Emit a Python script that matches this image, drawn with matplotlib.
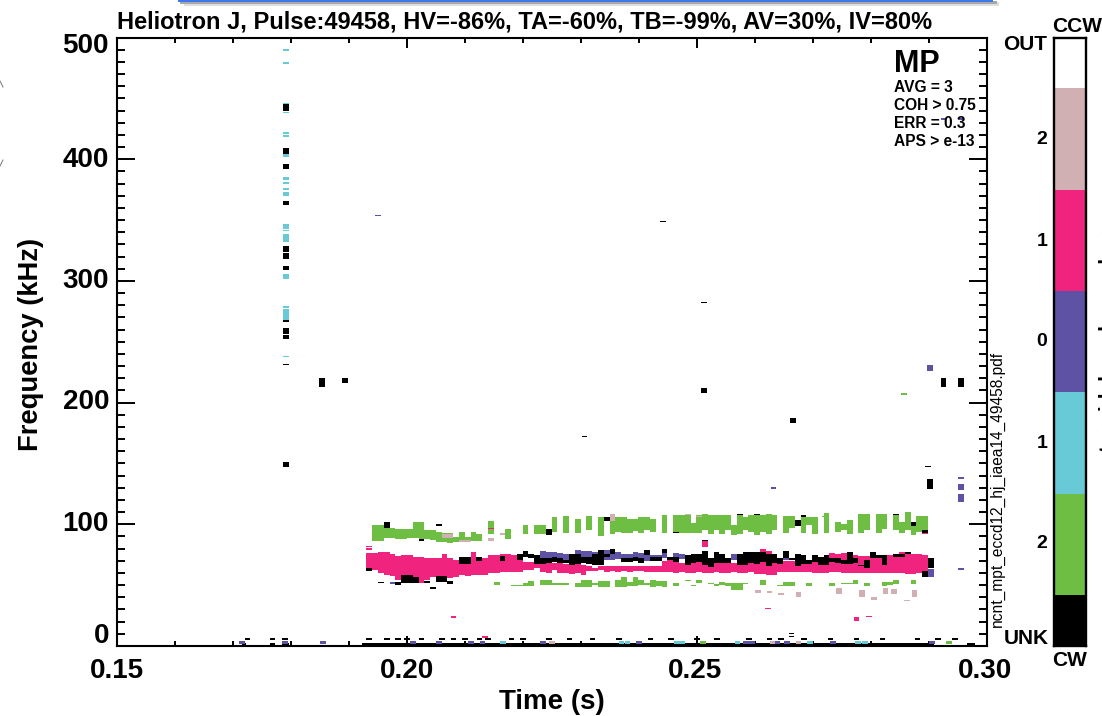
import numpy as np
import matplotlib
matplotlib.use("Agg")
import matplotlib.pyplot as plt
from matplotlib.patches import Rectangle

plt.rcParams['font.family'] = ['Liberation Sans', 'DejaVu Sans']

W, H = 1102, 716
PINK, PURPLE, CYAN, GREEN, TAN = '#F0237F', '#5D52A3', '#67CAD6', '#6EBE44', '#D0B0B3'
BLACK = '#000000'

# time grid of the spectrogram columns
t0, dt = 0.1935, 0.000998

title_text = "Heliotron J, Pulse:49458, HV=-86%, TA=-60%, TB=-99%, AV=30%, IV=80%"
x_ticks = [0.15, 0.20, 0.25, 0.30]
y_ticks = [0, 100, 200, 300, 400, 500]
info_lines = ["AVG = 3", "COH > 0.75", "ERR = 0.3", "APS > e-13"]
cbar_colors = [BLACK, GREEN, CYAN, PURPLE, PINK, TAN, '#FFFFFF']
cbar_labels = ["2", "1", "0", "1", "2"]

# main pink band (kHz) per column
pink_high = [76.5,76.5,77.4,77.4,76,73.8,74.6,74.6,73.3,73.3,72.4,72.4,72.4,75.2,71.9,70.5,69.2,69.2,77.4,73.3,
             71.9,74.6,74.6,76,76,74.6,71.9,69.2,69.2,67.8,67.8,67.8,67.8,67.8,67.2,66.4,67.2,66.4,65.6,64.5,
             65.4,66,65.4,66,65.4,66,65.4,66,65.4,66,66,
             70,72,70,68,68,68,70,68,68,68,68,68,68,68,68,68,68,80,78,70,70,70,70,70,70,70,70,70,70,
             76.5,76,76.5,76,75,74,74,73.5,73,74,75,75,77,77,76,75.5,75]
pink_low = [62.3,62.3,59.6,58.2,57.4,54.1,58.2,58.2,56.8,51.4,54.1,56.3,57.4,56.3,55.5,56.3,58.2,57.4,58.2,58.2,
            58.2,59.6,59.6,60.9,60.9,60.9,60.9,62.3,62.3,63.7,60.9,60.1,62.3,59.6,60.1,59,59.6,58.2,61.8,61.8,
            62.3,61,62,61,62,61,62,61.5,61,61,61,
            61,60.5,60,60.9,60.3,60,60.9,60,60,60.5,60,60,60.5,60.3,60,60.5,59.5,59,58.2,58.5,60.9,60.9,61,61,
            60.5,60.5,60,60,60.3,60.9,60.9,60.3,60,59.6,59.6,60,59.6,60.3,59.6,60,60.3,59.6,59,59,59.6,61]
pink_extra_col = [0,0,58,21,68,96]
pink_extra_lo = [79,81,81,96,77.4,92]
pink_extra_hi = [80.5,82,86,97,80,93.5]

# purple band
purple_col = [30,31,32,33,34,35,36,37,38,39,41,42,43,44,45,46,47,48,49,50,51,53,54,63,72,97,4]
purple_low = [72,72.4,73,72,71,72,71,72,72,71,71,71,71.5,71.5,72,70.5,70,70,71,71.5,72,71.5,71.5,71,71,57,50.8]
purple_high = [78,77.5,77,76.5,75.5,76,79,78,78,77,79,77,77,76,76,77,76.5,75.5,75,75,76.5,76.5,76,75.5,75,63,52.7]

# black band
black_col = [27,28,29,30,31,32,33,34,35,36,37,38,39,40,41,42,44,45,46,47,48,49,50,51,52,53,
             55,56,57,58,59,60,61,62,64,65,66,67,68,69,70,71,72,73,74,75,76,77,78,79,80,81,82,83,84,85,86,87,88,89,91,92,93,96,97]
black_low = [73.3,71.9,67.2,67.2,68.3,69.2,68.3,67.8,66.4,67.2,68.3,67.2,66.4,66.4,73,76,69,69,70,68,75,70,70,76.8,71,69.2,
             66.4,67.8,69.2,66.4,65,67.8,67.8,68.3,66.4,66.4,68.3,67.2,69.2,65.6,67.8,67.2,71.9,71,65.6,67.2,67.2,69.2,66.4,66.4,
             69.2,67.8,67.2,67.2,67.8,65.6,64,72,72,66.4,73.3,73.3,75.4,56.3,63.7]
black_high = [77.9,76,74.6,71.9,72.4,73.3,71.9,71,75.4,75.2,73.3,73.3,76,78.7,76,79.3,72,72,73.3,71.9,79,73,73,80,73.3,73,
              74.6,76,76,78.2,71.9,77.4,76,71.9,76,77.4,77.4,77.4,77.4,76,76,71.9,78.2,72,76,74.6,70.5,74.6,73.3,74.6,
              71.9,71.9,71,77.4,71.9,66.5,70.5,77.4,74.6,74.6,76,76,77.4,62,72]
black_extra_col = [0,2,3,5,6,7,8,9,10,11,12,13,12,14,16,17,19,23,26,31,41,74,75,53,64,67,87,91,96,94,58]
black_extra_lo = [61.8,52.1,97.3,50,51.4,51.4,51.4,86.4,51.4,47,52.7,52.7,99,50.8,67.2,67.2,70,70,70.5,91,102.8,98.4,106,92.8,108,108,109,108,93,98.8,86.5]
black_extra_hi = [63.7,52.8,102,52.7,58.2,58.2,57,87.8,53.6,48.6,57.4,57.4,100.6,53.6,73.3,73.3,73.3,73.8,75.5,96.5,105.6,103.9,108,93.8,108.6,108.6,109.4,108.6,95,101.5,87]

# upper green band
green_col = [1,2,3,4,5,6,7,8,9,10,11,12,13,14,15,16,17,18,19,21,24,27,29,30,32,34,36,38,40,42,43,44,45,46,47,48,49,
             51,53,54,55,56,57,58,59,60,61,62,63,64,65,66,67,68,69,70,72,73,75,76,77,79,81,82,83,85,86,88,89,91,92,93,94,95,96]
green_low = [86.4,86.4,88.9,88.9,88.3,88.3,88.9,88.9,87.8,87.8,87,85.6,85.6,84.8,85.6,87,85.6,86.4,86.4,92,88,91.9,92.4,92.4,93.8,93,93,95.2,90.2,91.9,93.8,93,93,94.6,93,95.2,93.8,
             93,93,93,93,93,93,95.7,92.4,95.7,92.4,95.7,91,92.4,95.7,93.8,91,93.8,92.4,95.7,93,97.3,93,99.3,91.9,93,93.8,95.7,92.4,93,95.7,93,96,95,93,95.7,91,93.8,93.8]
green_high = [99.3,99.3,97.3,97.3,96.5,96.5,96.5,102,102,95.2,95.2,93.8,93,93,89.7,93.8,89.7,93.8,92.4,102.5,96.5,99.8,99.3,99.3,105.6,106.7,104.7,107.2,106.1,106.1,106.1,105.6,104.7,104.7,106.1,106.1,104.7,
              107.5,107.5,108,108.3,101.2,107.5,108.3,107.5,107.5,107.5,107.5,99.3,107.5,106,107.5,108.3,107.5,108.3,107.5,106.7,106.7,107.5,106,106,109.4,102,100.6,103.9,108.8,108.8,108.8,108.8,108.3,102,110.2,100,106.7,106.7]

# lower green band
green2_t = [22,25,26,27,28,30,31,32,33,34,36,37,38,39,40,41,43,44,45,46,47,48,49,50,51,53,55,56,57,59,60,61,62,63,64,65,68,71,72,73,76,80,82,83,84,86,89,90,91,94]
green2_low = [50,49.2,49.2,49.2,49.2,50,50,50,50,50,48.6,48.1,48.1,50,48.6,48.6,48.6,48.6,49.2,49.2,50,50,48.6,49.2,48.1,49.2,53,49.2,52,51,49.2,50,49.2,45.9,45.9,51,50,49.2,49.2,49.2,49.2,49,50.8,50.8,50.8,49.2,49.2,50,50.8,50.8]
green2_high = [52.7,50,50,51.9,53.6,54.6,54.6,51.9,51.9,51.9,51.9,54.1,54.1,51.9,53.6,53.6,54.6,56.8,52.7,56.3,54.6,51.9,54.1,53.6,53.6,51.4,54.1,50,54,51.9,51,52.7,51.4,51.4,51.4,51.4,54.1,50,52.7,52.7,51.9,52,51.5,51.5,54,51.4,52.7,52.7,54.6,54.1]

# tan cells sitting on the upper green band
tan_col = [13,14,16,17,21,23,42,55,57]
tan_lo = [89,89,85.6,85.6,86.4,91.3,102.8,108,106]
tan_hi = [91.9,91.9,87,87,88.9,93,108.3,108.4,106.7]

# vertical stack of cells near t = 0.179
stack_t = 0.1791
stack_low = [489,478,445,438,421,418,408,402,392,382.5,380,374.6,369.7,342.3,340.8,331.7,301.3,278,267.7,237.3]
stack_high = [490.5,480,446.5,439,422.5,419.5,409.5,404,395,385,381,376,372.7,346.5,341.9,338.6,305.5,279,277,238.4]
stack_black_low = [439.5,404,392,362,324,318,309.3,256.7,252.6,230.5,147.3,266.5]
stack_black_high = [445,409,396,365.6,329,323,312.6,261.7,255.4,232,151.6,267.7]

# isolated cells: time, low, high
iso_black_t = [0.1853,0.1893,0.2512,0.2665,0.2902,0.2925,0.2955,0.2512,0.2442,0.2306,0.2898,0.2663,0.2663]
iso_black_lo = [212.6,216,207.7,183,129,212.6,212.6,282,348.5,171.5,147,9.5,7.5]
iso_black_hi = [220,220,212,187,137,220,220,283,349.5,172.5,148,10.5,8.5]
iso_purple_t = [0.2902,0.2955,0.2955,0.2955,0.2955,0.2925,0.2955,0.1950,0.2632]
iso_purple_lo = [225.8,137,128,118,62.4,432,432,353.3,129]
iso_purple_hi = [230.7,138.7,133,124.8,64,434,434,354.3,130.3]
iso_pink_t = [0.2080,0.2622,0.2775,0.2797,0.2135]
iso_pink_lo = [22.8,30.5,20.5,24,6.5]
iso_pink_hi = [24.8,31.5,24,25,8]
iso_tan_t = [0.2605,0.2625,0.2645,0.2675,0.2745,0.2785,0.2805,0.2825,0.2840,0.2862,0.2875]
iso_tan_lo = [43.5,43.5,42,40,43,40,38,43,43,37,40]
iso_tan_hi = [46,45,43.5,44,48,46,40,48,47,38,46]
iso_green_t = [0.2857,0.2762,0.2720]
iso_green_lo = [206.5,106.5,106]
iso_green_hi = [207.5,107,107]

# floor row: start time, end time, colour index
floor_black = [(0.1715,0.1722),(0.1763,0.1772),(0.1785,0.1797),(0.1922,0.2908),(0.2965,0.2980)]
floor_cells_t = [0.2010,0.2055,0.2110,0.2130,0.2165,0.2235,0.2250,0.2370,0.2380,0.2400,0.2465,0.2475,
                 0.2570,0.2585,0.2510,0.2595,0.2638,0.2655,0.2695,0.2735,0.2778,0.2790,0.2630,0.2675,
                 0.2905,0.2935,0.1715,0.1790,0.1855]
floor_cells_c = [PURPLE,PURPLE,PURPLE,PURPLE,CYAN,PURPLE,TAN,CYAN,CYAN,PURPLE,CYAN,CYAN,
                 CYAN,PURPLE,GREEN,PURPLE,PURPLE,PURPLE,CYAN,PURPLE,CYAN,CYAN,TAN,TAN,
                 PURPLE,GREEN,PURPLE,PURPLE,PURPLE]
floor_thin_t = [0.1725,0.1768,0.1790,0.1935,0.1965,0.1985,0.2000,0.2025,0.2060,0.2080,0.2100,0.2125,0.2140,
                0.2180,0.2200,0.2245,0.2280,0.2320,0.2365,0.2420,0.2455,0.2500,0.2535,0.2590,0.2625,0.2645,
                0.2685,0.2730,0.2775,0.2820,0.2880,0.2915,0.2945]

fig = plt.figure(figsize=(W/100, H/100), dpi=100)
ax = fig.add_axes([117/W, 1-646/H, 870/W, 608.5/H])
ax.set_xlim(0.15, 0.30)
ax.set_ylim(0, 500)


def draw(ts, lows, highs, color, width=dt, z=2):
    n = min(len(ts), len(lows), len(highs))
    ts, lows, highs = np.array(ts[:n]), np.array(lows[:n]), np.array(highs[:n])
    ax.bar(ts, highs-lows, bottom=lows, width=width, color=color, linewidth=0, zorder=z)


def cols(idx):
    return [t0 + dt*i for i in idx]


draw(cols(green_col), green_low, green_high, GREEN)
draw(cols(green2_t), green2_low, green2_high, GREEN)
draw(cols(tan_col), tan_lo, tan_hi, TAN, z=3)
draw(cols(range(len(pink_high))), pink_low, pink_high, PINK, z=3)
draw(cols(pink_extra_col), pink_extra_lo, pink_extra_hi, PINK, z=3)
draw(cols(purple_col), purple_low, purple_high, PURPLE, z=4)
draw(cols(black_col), black_low, black_high, BLACK, z=5)
draw(cols(black_extra_col), black_extra_lo, black_extra_hi, BLACK, z=5)
draw([stack_t]*len(stack_low), stack_low, stack_high, CYAN)
draw([stack_t]*len(stack_black_low), stack_black_low, stack_black_high, BLACK, z=3)
draw(iso_tan_t, iso_tan_lo, iso_tan_hi, TAN)
draw(iso_green_t, iso_green_lo, iso_green_hi, GREEN)
draw(iso_pink_t, iso_pink_lo, iso_pink_hi, PINK)
draw(iso_purple_t, iso_purple_lo, iso_purple_hi, PURPLE)
draw(iso_black_t, iso_black_lo, iso_black_hi, BLACK)
for a, b in floor_black:
    ax.bar((a+b)/2, 2.5, width=b-a, color=BLACK, linewidth=0, zorder=5)
ax.bar(floor_cells_t, 2.2, bottom=2.0, width=dt, color=floor_cells_c, linewidth=0, zorder=6)
ax.bar(floor_thin_t, 1.3, bottom=5.2, width=dt, color=BLACK, linewidth=0, zorder=5)

# axes styling
for s in ax.spines.values():
    s.set_linewidth(1.5)
    s.set_zorder(10)
ax.set_xticks(x_ticks)
ax.set_xticks(np.arange(0.15, 0.3001, 0.01), minor=True)
ax.set_yticks(y_ticks)
ax.set_yticks(np.arange(0, 501, 10), minor=True)
ax.tick_params(axis='x', which='major', direction='in', length=7.5, width=1.4, top=True, bottom=True, labelbottom=False)
ax.tick_params(axis='x', which='minor', direction='in', length=3.8, width=1.4, top=True, bottom=True)
ax.tick_params(axis='y', which='major', direction='in', length=13, width=1.4, left=True, right=True, labelleft=False)
ax.tick_params(axis='y', which='minor', direction='in', length=6, width=1.4, left=True, right=True)


def ptext(x, y, s, **kw):
    kw.setdefault('weight', 'bold')
    kw.setdefault('color', 'black')
    kw.setdefault('ha', 'center')
    kw.setdefault('va', 'center')
    return fig.text(x/W, 1-y/H, s, **kw)


ptext(117, 22, title_text, ha='left', fontsize=17)
for v, yy in zip(y_ticks, [636, 524, 402, 281, 160, 46]):
    ptext(109, yy, str(v), ha='right', fontsize=20)
for v, xx in zip(x_ticks, [117, 407, 695, 985]):
    ptext(xx, 671, f"{v:.2f}", fontsize=20)
ptext(552, 702, "Time (s)", fontsize=20)
ptext(31, 344, "Frequency (kHz)", rotation=90, fontsize=19.7)
ptext(894, 64, "MP", ha='left', fontsize=22)
for s, yy in zip(info_lines, [87, 105, 123, 142]):
    ptext(894, yy, s, ha='left', fontsize=11.2, zorder=12)
ptext(997, 489, "ncnt_mpt_eccd12_hj_iaea14_49458.pdf", rotation=90, fontsize=11.2, weight='normal')

# colour bar
cax = fig.add_axes([1054/W, 1-646/H, 32/W, 608.5/H])
cax.set_xlim(0, 1)
cax.set_ylim(0, 6)
cax.bar([0.5]*7, [0.5, 1, 1, 1, 1, 1, 0.5], bottom=[0, 0.5, 1.5, 2.5, 3.5, 4.5, 5.5], width=1,
        color=cbar_colors, linewidth=0)
cax.set_xticks([])
cax.set_yticks([])
for s in cax.spines.values():
    s.set_linewidth(1.7)
for s, yy in zip(cbar_labels, [544, 443, 342, 241, 139]):
    ptext(1042, yy, s, fontsize=14)
ptext(1077, 26, "CCW", fontsize=15)
ptext(1070, 660, "CW", fontsize=15)
ptext(1025, 44, "OUT", fontsize=15)
ptext(1026, 638, "UNK", fontsize=15)
ptext(1108, 342, "toroidal mode number", rotation=90, fontsize=15)

# slide fragments along the top edge and left edge
fig.add_artist(Rectangle((184/W, 1-6/H), 815/W, 4/H, transform=fig.transFigure, color='#DEDEDE', linewidth=0))
fig.add_artist(Rectangle((180/W, 1-3.5/H), 817/W, 2/H, transform=fig.transFigure, color='#A8A8A8', linewidth=0))
fig.add_artist(Rectangle((178/W, 1-1.6/H), 815/W, 1.6/H, transform=fig.transFigure, color='#3F78E8', linewidth=0))
fig.add_artist(plt.Line2D([0, 3/W], [1-81/H, 1-87/H], color='#777777', lw=0.7))
fig.add_artist(plt.Line2D([0, 3/W], [1-166/H, 1-160/H], color='#777777', lw=0.7))

fig.savefig("out.png", dpi=100)
